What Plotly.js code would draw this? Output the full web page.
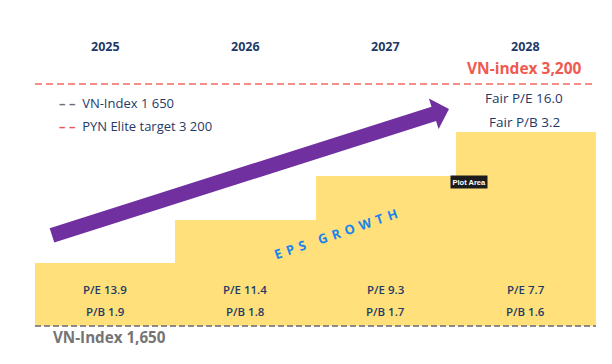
<!DOCTYPE html>
<html>
<head>
<meta charset="utf-8">
<script src="https://cdn.plot.ly/plotly-3.0.1.min.js"></script>
<style>html,body{margin:0;padding:0;background:#fff;}#chart{width:612px;height:364px;}</style>
</head>
<body>
<div id="chart"></div>
<script>
// ---- data ----
const years = ['2025', '2026', '2027', '2028'];
const stepLevels = [2053, 2329, 2611, 2893];   // top of each EPS-growth step (index scale)
const currentIndex = 1650;
const targetIndex = 3200;
const peRatios = ['13.9', '11.4', '9.3', '7.7'];
const pbRatios = ['1.9', '1.8', '1.7', '1.6'];
const fairPE = '16.0';
const fairPB = '3.2';
const arrowTail = [0.121, 2230];
const arrowTip = [2.952, 3040];

// ---- layout constants ----
const W = 612, H = 364, ML = 35, MR = 16;
const XR = [0, 4], YR = [1406.6, 3738];
const pw = W - ML - MR;
const toPx = x => ML + (x - XR[0]) / (XR[1] - XR[0]) * pw;
const toPy = y => H * (1 - (y - YR[0]) / (YR[1] - YR[0]));
const fromPx = p => XR[0] + (p - ML) / pw * (XR[1] - XR[0]);
const fromPy = p => YR[0] + (1 - p / H) * (YR[1] - YR[0]);

const FONT = 'Open Sans, Lato, sans-serif';
const NAVY = '#1f3a68', RED = '#ef5a50', GRAY = '#747474';

const xc = years.map((_, i) => i + 0.5);

const traces = [
  {
    type: 'bar', x: xc, y: stepLevels.map(v => v - currentIndex), base: currentIndex,
    width: 1, marker: { color: '#ffe07a', line: { width: 0 } }, hoverinfo: 'skip'
  },
  {
    type: 'scatter', mode: 'lines', x: [XR[0], XR[1]], y: [currentIndex, currentIndex],
    line: { color: '#8a8a8a', width: 2, dash: '6px,3px' }, hoverinfo: 'skip'
  },
  {
    type: 'scatter', mode: 'lines', x: [XR[0], 3.98], y: [targetIndex, targetIndex],
    line: { color: '#f26a62', width: 1.5, dash: '7px,4px' }, hoverinfo: 'skip'
  }
];

// arrow polygon built in pixel space from tail/tip, converted back to data
function arrowPath() {
  const tx = toPx(arrowTail[0]), ty = toPy(arrowTail[1]);
  const hx = toPx(arrowTip[0]), hy = toPy(arrowTip[1]);
  const L = Math.hypot(hx - tx, hy - ty);
  const ux = (hx - tx) / L, uy = (hy - ty) / L;
  const nx = -uy, ny = ux;
  const sw = 7.5, hw = 16, hl = 16;
  const bx = hx - ux * hl, by = hy - uy * hl;
  const pts = [
    [tx + nx * sw, ty + ny * sw],
    [bx + nx * sw, by + ny * sw],
    [bx + nx * hw, by + ny * hw],
    [hx, hy],
    [bx - nx * hw, by - ny * hw],
    [bx - nx * sw, by - ny * sw],
    [tx - nx * sw, ty - ny * sw]
  ];
  return 'M' + pts.map(p => fromPx(p[0]) + ',' + fromPy(p[1])).join(' L') + ' Z';
}

const annotations = [];
years.forEach((yr, i) => {
  annotations.push({ x: xc[i], y: 3437, text: '<b>' + yr + '</b>', showarrow: false,
    font: { family: FONT, size: 12.5, weight: 800, color: NAVY } });
  annotations.push({ x: xc[i], y: 1881, text: 'P/E ' + peRatios[i], showarrow: false,
    font: { family: FONT, size: 11.5, weight: 600, color: '#243b66' } });
  annotations.push({ x: xc[i], y: 1740, text: 'P/B ' + pbRatios[i], showarrow: false,
    font: { family: FONT, size: 11.5, weight: 600, color: '#243b66' } });
});
annotations.push(
  { x: 3.49, y: 3302, text: '<b>VN-index 3,200</b>', showarrow: false,
    font: { family: FONT, size: 15.5, color: RED } },
  { x: 3.49, y: 3110, text: 'Fair P/E ' + fairPE, showarrow: false,
    font: { family: FONT, size: 13.5, color: NAVY } },
  { x: 3.49, y: 2956, text: 'Fair P/B ' + fairPB, showarrow: false,
    font: { family: FONT, size: 13.5, color: NAVY } },
  { x: fromPx(57), y: 3078, xanchor: 'left',
    text: '<span style="color:#6f6f6f"><b>– –</b></span>  VN-Index 1 650', showarrow: false,
    font: { family: FONT, size: 13, color: NAVY } },
  { x: fromPx(57), y: 2931, xanchor: 'left',
    text: '<span style="color:#f2554d"><b>– –</b></span>  PYN Elite target 3 200', showarrow: false,
    font: { family: FONT, size: 13, color: NAVY } },
  { x: fromPx(51), y: 1580, xanchor: 'left', text: '<b>VN-Index 1,650</b>', showarrow: false,
    font: { family: FONT, size: 15.2, color: GRAY } },
  { x: fromPx(338), y: fromPy(233), text: '<span style="letter-spacing:5px"><b>EPS GROWTH</b></span>', textangle: -19,
    showarrow: false, font: { family: FONT, size: 13, weight: 800, color: '#1a84ee' } },
  { x: fromPx(469), y: fromPy(182), text: '<b>Plot Area</b>', showarrow: false, bgcolor: '#1c1c1c',
    borderpad: 1.5, font: { family: 'Liberation Sans, Arial, sans-serif', size: 7.5, color: '#ffffff' } }
);

const layout = {
  width: W, height: H,
  margin: { l: ML, r: MR, t: 0, b: 0, pad: 0 },
  paper_bgcolor: '#ffffff', plot_bgcolor: '#ffffff',
  showlegend: false, bargap: 0,
  xaxis: { range: XR, visible: false, fixedrange: true },
  yaxis: { range: YR, visible: false, fixedrange: true },
  shapes: [{ type: 'path', xref: 'x', yref: 'y', path: arrowPath(),
    fillcolor: '#7030a0', line: { width: 0 } }],
  annotations: annotations
};

Plotly.newPlot('chart', traces, layout, { displayModeBar: false, staticPlot: true });
</script>
</body>
</html>
